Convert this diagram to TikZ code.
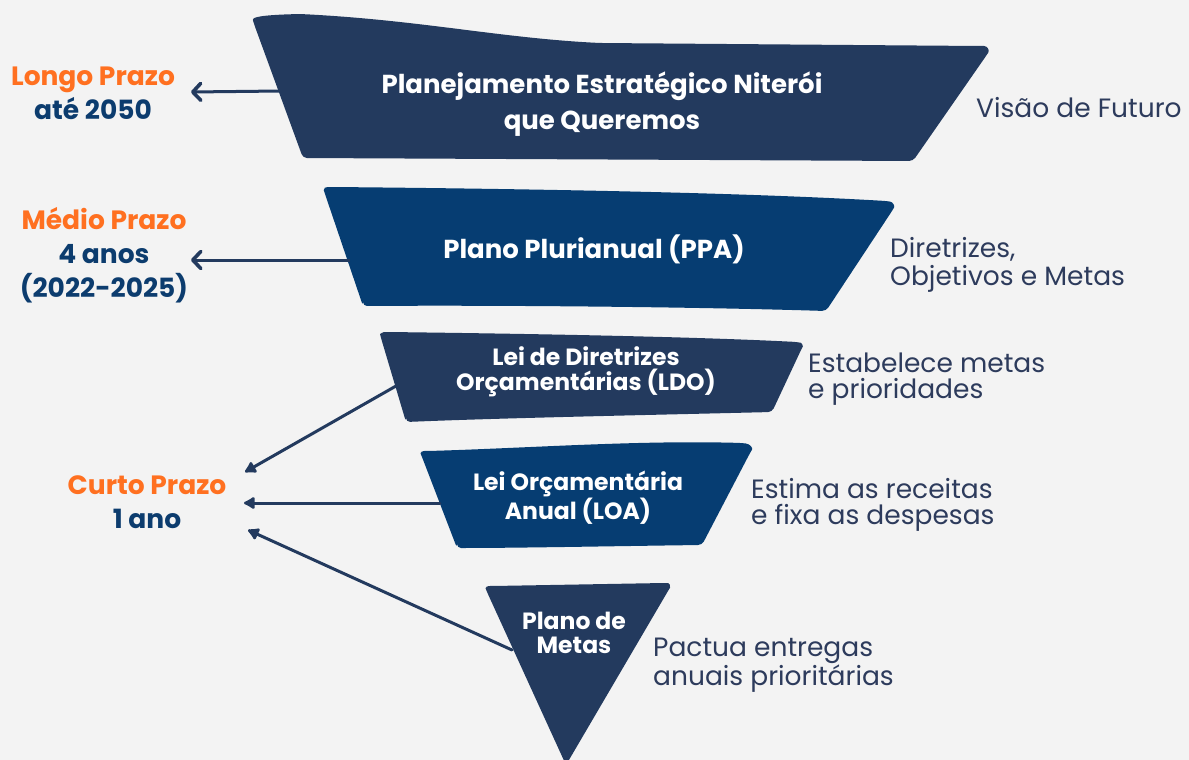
\documentclass[tikz,border=0pt]{standalone}
\usepackage{fontspec}
\setmainfont{Poppins}
\usetikzlibrary{arrows.meta}
\definecolor{bgc}{RGB}{243,243,243}
\definecolor{navy}{RGB}{35,58,94}
\definecolor{blu}{RGB}{6,61,114}
\definecolor{orng}{RGB}{255,112,32}
\definecolor{lnavy}{RGB}{12,60,110}
\definecolor{gtxt}{RGB}{45,59,92}
\tikzset{
  shapetxt/.style={text=white, font=\bfseries\fontsize{26}{36}\selectfont, align=center, inner sep=0pt},
  smalltxt/.style={text=white, font=\bfseries\fontsize{23.5}{24.5}\selectfont, align=center, inner sep=0pt},
  termo/.style={font=\bfseries\fontsize{26.5}{34}\selectfont, align=center, inner sep=0pt},
  desc/.style={text=gtxt, font=\fontsize{26.5}{26.5}\selectfont, align=left, anchor=west, inner sep=0pt},
  desc1/.style={text=gtxt, font=\fontsize{26.5}{27.5}\selectfont, align=left, anchor=west, inner sep=0pt},
  seta/.style={draw=navy, line width=3pt, -{Straight Barb[length=8pt,width=17pt,line width=3.6pt,round]}},
  setaf/.style={draw=navy, line width=3pt, line cap=round, -{Latex[length=13pt,width=15pt,round]}},
}
\begin{document}
\begin{tikzpicture}[x=1pt,y=-1pt]
\fill[bgc] (0,0) rectangle (1189,760);
\useasboundingbox (0,0) rectangle (1189,760);

% shape 1
\fill[navy, rounded corners=4pt] (303,158) -- (254,24) .. controls (252,17) and (262,15) .. (300,14)
  .. controls (420,20) and (500,38) .. (600,43) -- (980,46) .. controls (987,46) and (990,50) .. (986,56)
  -- (913,161) -- cycle;
% shape 2
\fill[blu, rounded corners=4pt] (363,306) -- (325,194) .. controls (323,188) and (326,187) .. (332,187)
  .. controls (550,189) and (750,193) .. (886,201) .. controls (893,202) and (895,206) .. (892,211)
  -- (826,311) .. controls (700,307) and (500,305) .. cycle;
% shape 3
\fill[navy, rounded corners=4pt] (406,422) -- (381,338) .. controls (380,334) and (383,332) .. (388,332)
  .. controls (550,334) and (700,337) .. (797,342) .. controls (802,343) and (803,346) .. (801,350)
  -- (772,412) .. controls (650,415) and (500,418) .. cycle;
% shape 4
\fill[blu, rounded corners=4pt] (457,548) -- (422,457) .. controls (420,452) and (423,451) .. (428,451)
  .. controls (530,448) and (640,440) .. (742,443) .. controls (750,444) and (753,448) .. (750,453)
  -- (702,545) .. controls (620,546) and (520,548) .. cycle;
% shape 5
\fill[navy, rounded corners=4pt] (566,765) -- (487,592) .. controls (485,587) and (488,586) .. (493,586)
  -- (664,583) .. controls (669,583) and (671,586) .. (668,591) -- cycle;

% texts in shapes
\node[shapetxt] (pe) at (602,104) {Planejamento Estratégico Niterói\\que Queremos};
\node[shapetxt] (ppa) at (594,249) {Plano Plurianual (PPA)};
\node[smalltxt] (ldo) at (586,372) {Lei de Diretrizes\\Orçamentárias (LDO)};
\node[smalltxt] (loa) at (578,498) {Lei Orçamentária\\Anual (LOA)};
\node[smalltxt] (pm) at (574,633) {Plano de\\Metas};

% left labels
\node[termo] (lp) at (93,93) {\textcolor{orng}{Longo Prazo}\\\textcolor{lnavy}{até 2050}};
\node[termo] (mp) at (104,255) {\textcolor{orng}{Médio Prazo}\\\textcolor{lnavy}{4 anos}\\\textcolor{lnavy}{(2022-2025)}};
\node[termo] (cp) at (147,502) {\textcolor{orng}{Curto Prazo}\\\textcolor{lnavy}{1 ano}};

% right labels
\node[desc] (d1) at (976,108) {Visão de Futuro};
\node[desc1] (d2) at (890,265) {Diretrizes,\\Objetivos e Metas};
\node[desc] (d3) at (808,379) {Estabelece metas\\e prioridades};
\node[desc] (d4) at (751,505) {Estima as receitas\\e fixa as despesas};
\node[desc] (d5) at (653,665) {Pactua entregas\\anuais prioritárias};

% connectors
\coordinate (s1) at (281,91);  \coordinate (e1) at (191,92);
\coordinate (s2) at (350,260); \coordinate (e2) at (191,260);
\coordinate (s3) at (396,386); \coordinate (e3) at (245,472);
\coordinate (s4) at (440,503); \coordinate (e4) at (244,503);
\coordinate (s5) at (512,650); \coordinate (e5) at (248,530);
\draw[seta] (s1) -- (e1);
\draw[seta] (s2) -- (e2);
\draw[setaf] (s3) -- (e3);
\draw[setaf] (s4) -- (e4);
\draw[setaf] (s5) -- (e5);
\end{tikzpicture}
\end{document}
